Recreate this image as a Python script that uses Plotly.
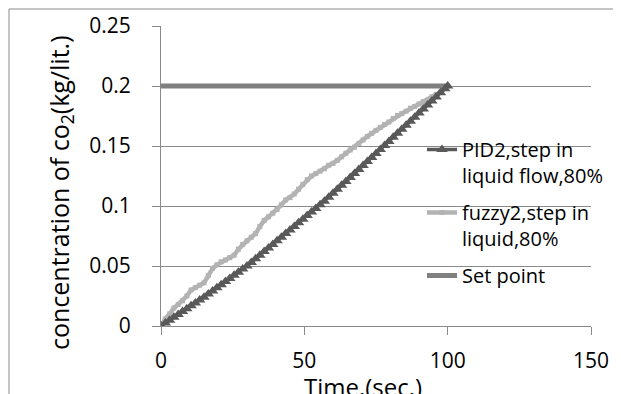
import plotly.graph_objects as go

# time (sec.)
time_s = [0, 1.5, 3, 4.5, 6, 7.5, 9, 10.5, 12, 13.5, 15, 16.5, 18, 19.5, 21, 22.5, 24, 25.5,
          27, 28.5, 30, 31.5, 33, 34.5, 36, 37.5, 39, 40.5, 42, 43.5, 45, 46.5, 48, 49.5,
          51, 52.5, 54, 55.5, 57, 58.5, 60, 61.5, 63, 64.5, 66, 67.5, 69, 70.5, 72, 73.5,
          75, 76.5, 78, 79.5, 81, 82.5, 84, 85.5, 87, 88.5, 90, 91.5, 93, 94.5, 96, 97.5,
          99, 100]

pid2 = [0, 0.0024, 0.0048, 0.0072, 0.0096, 0.012, 0.0144, 0.0168, 0.0192, 0.0216, 0.024,
        0.0266, 0.0292, 0.0318, 0.0344, 0.037, 0.0396, 0.0422, 0.0448, 0.0474, 0.05,
        0.053, 0.056, 0.059, 0.062, 0.065, 0.068, 0.071, 0.074, 0.077, 0.080,
        0.083, 0.086, 0.089, 0.092, 0.095, 0.098, 0.101, 0.104,
        0.1073, 0.1106, 0.1139, 0.1172, 0.1205, 0.1238, 0.1271, 0.1304, 0.1337, 0.137,
        0.1404, 0.1437, 0.1471, 0.1505, 0.1538, 0.1572, 0.1606, 0.1639, 0.1673, 0.1707,
        0.174, 0.1774, 0.1808, 0.1842, 0.1875, 0.1909, 0.1943, 0.1977, 0.2]

fuzzy2 = [0, 0.006, 0.010, 0.015, 0.018, 0.021, 0.025, 0.030, 0.032, 0.034, 0.036,
          0.042, 0.048, 0.051, 0.0535, 0.055, 0.057, 0.059, 0.064, 0.068, 0.071,
          0.074, 0.077, 0.083, 0.088, 0.091, 0.094, 0.097, 0.101, 0.105, 0.107,
          0.110, 0.114, 0.118, 0.122, 0.125, 0.127, 0.129, 0.131,
          0.134, 0.1355, 0.138, 0.141, 0.144, 0.1467, 0.149, 0.152, 0.155, 0.158,
          0.1605, 0.163, 0.1655, 0.168, 0.170, 0.173, 0.1755, 0.177, 0.179, 0.1815,
          0.183, 0.185, 0.187, 0.188, 0.191, 0.193, 0.195, 0.198, 0.2]

setpoint_t = [0, 100]
setpoint = [0.2, 0.2]

x_ticks = [0, 50, 100, 150]
y_ticks = [0, 0.05, 0.1, 0.15, 0.2, 0.25]
y_ticklabels = ["0", "0.05", "0.1", "0.15", "0.2", "0.25"]

FONT = "'Open Sans', Lato, sans-serif"
GRID = "#8a8a8a"

# figure is placed at an 8px body offset in the page
W, H = 613, 386
L, T = 153, 18
PW, PH = 430, 300


def px(xf):
    return (xf - 8 - L) / PW


def py(yf):
    return (T + PH - (yf - 8)) / PH


fig = go.Figure()
fig.add_trace(go.Scatter(
    x=setpoint_t, y=setpoint, mode="lines", name="Set point",
    line=dict(color="#808080", width=5), legendrank=3, legendgroup="c"))
fig.add_trace(go.Scatter(
    x=time_s, y=fuzzy2, mode="lines+markers", name="fuzzy2,step in<br>liquid,80%",
    line=dict(color="#b3b3b3", width=4.5),
    marker=dict(symbol="square", size=5, color="#b3b3b3"),
    legendrank=2, legendgroup="b"))
fig.add_trace(go.Scatter(
    x=time_s, y=pid2, mode="lines+markers", name="PID2,step in<br>liquid flow,80%",
    line=dict(color="#595959", width=3.5),
    marker=dict(symbol="triangle-up", size=10, color="#595959"),
    legendrank=1, legendgroup="a"))

fig.update_layout(
    width=W, height=H, autosize=False,
    margin=dict(l=L, r=W - L - PW, t=T, b=H - T - PH, pad=0, autoexpand=False),
    paper_bgcolor="white", plot_bgcolor="white",
    font=dict(family=FONT, size=20, color="black"),
    showlegend=True,
    legend=dict(x=px(422), y=py(130), xanchor="left", yanchor="top",
                valign="top", tracegroupgap=8,
                font=dict(family=FONT, size=20, color="black"),
                bgcolor="rgba(0,0,0,0)"),
    xaxis=dict(range=[0, 150], tickvals=x_ticks, showgrid=False, zeroline=False,
               showline=True, linecolor=GRID, linewidth=1, automargin=False,
               ticks="outside", ticklen=8, tickcolor=GRID, tickwidth=1,
               tickfont=dict(size=21), ticklabelstandoff=8),
    yaxis=dict(range=[0, 0.25], tickvals=y_ticks, ticktext=y_ticklabels,
               showgrid=True, gridcolor=GRID, gridwidth=1, zeroline=False,
               showline=True, linecolor=GRID, linewidth=1, automargin=False,
               ticks="outside", ticklen=8, tickcolor=GRID, tickwidth=1,
               tickfont=dict(size=21), ticklabelstandoff=17),
    annotations=[
        dict(text="Time.(sec.)", xref="paper", yref="paper",
             x=px(363), y=py(386), xanchor="center", yanchor="middle",
             showarrow=False, font=dict(size=24)),
        dict(text="concentration of co<sub>2</sub>(kg/lit.)", xref="paper", yref="paper",
             x=px(60), y=py(193), xanchor="center", yanchor="middle",
             textangle=-90, showarrow=False, font=dict(size=25)),
    ],
    shapes=[
        dict(type="line", xref="paper", yref="paper",
             x0=px(9), x1=px(640), y0=py(9), y1=py(9),
             line=dict(color=GRID, width=1)),
        dict(type="line", xref="paper", yref="paper",
             x0=px(9), x1=px(9), y0=py(9), y1=py(420),
             line=dict(color=GRID, width=1)),
    ],
)

fig.write_html("out.html")
